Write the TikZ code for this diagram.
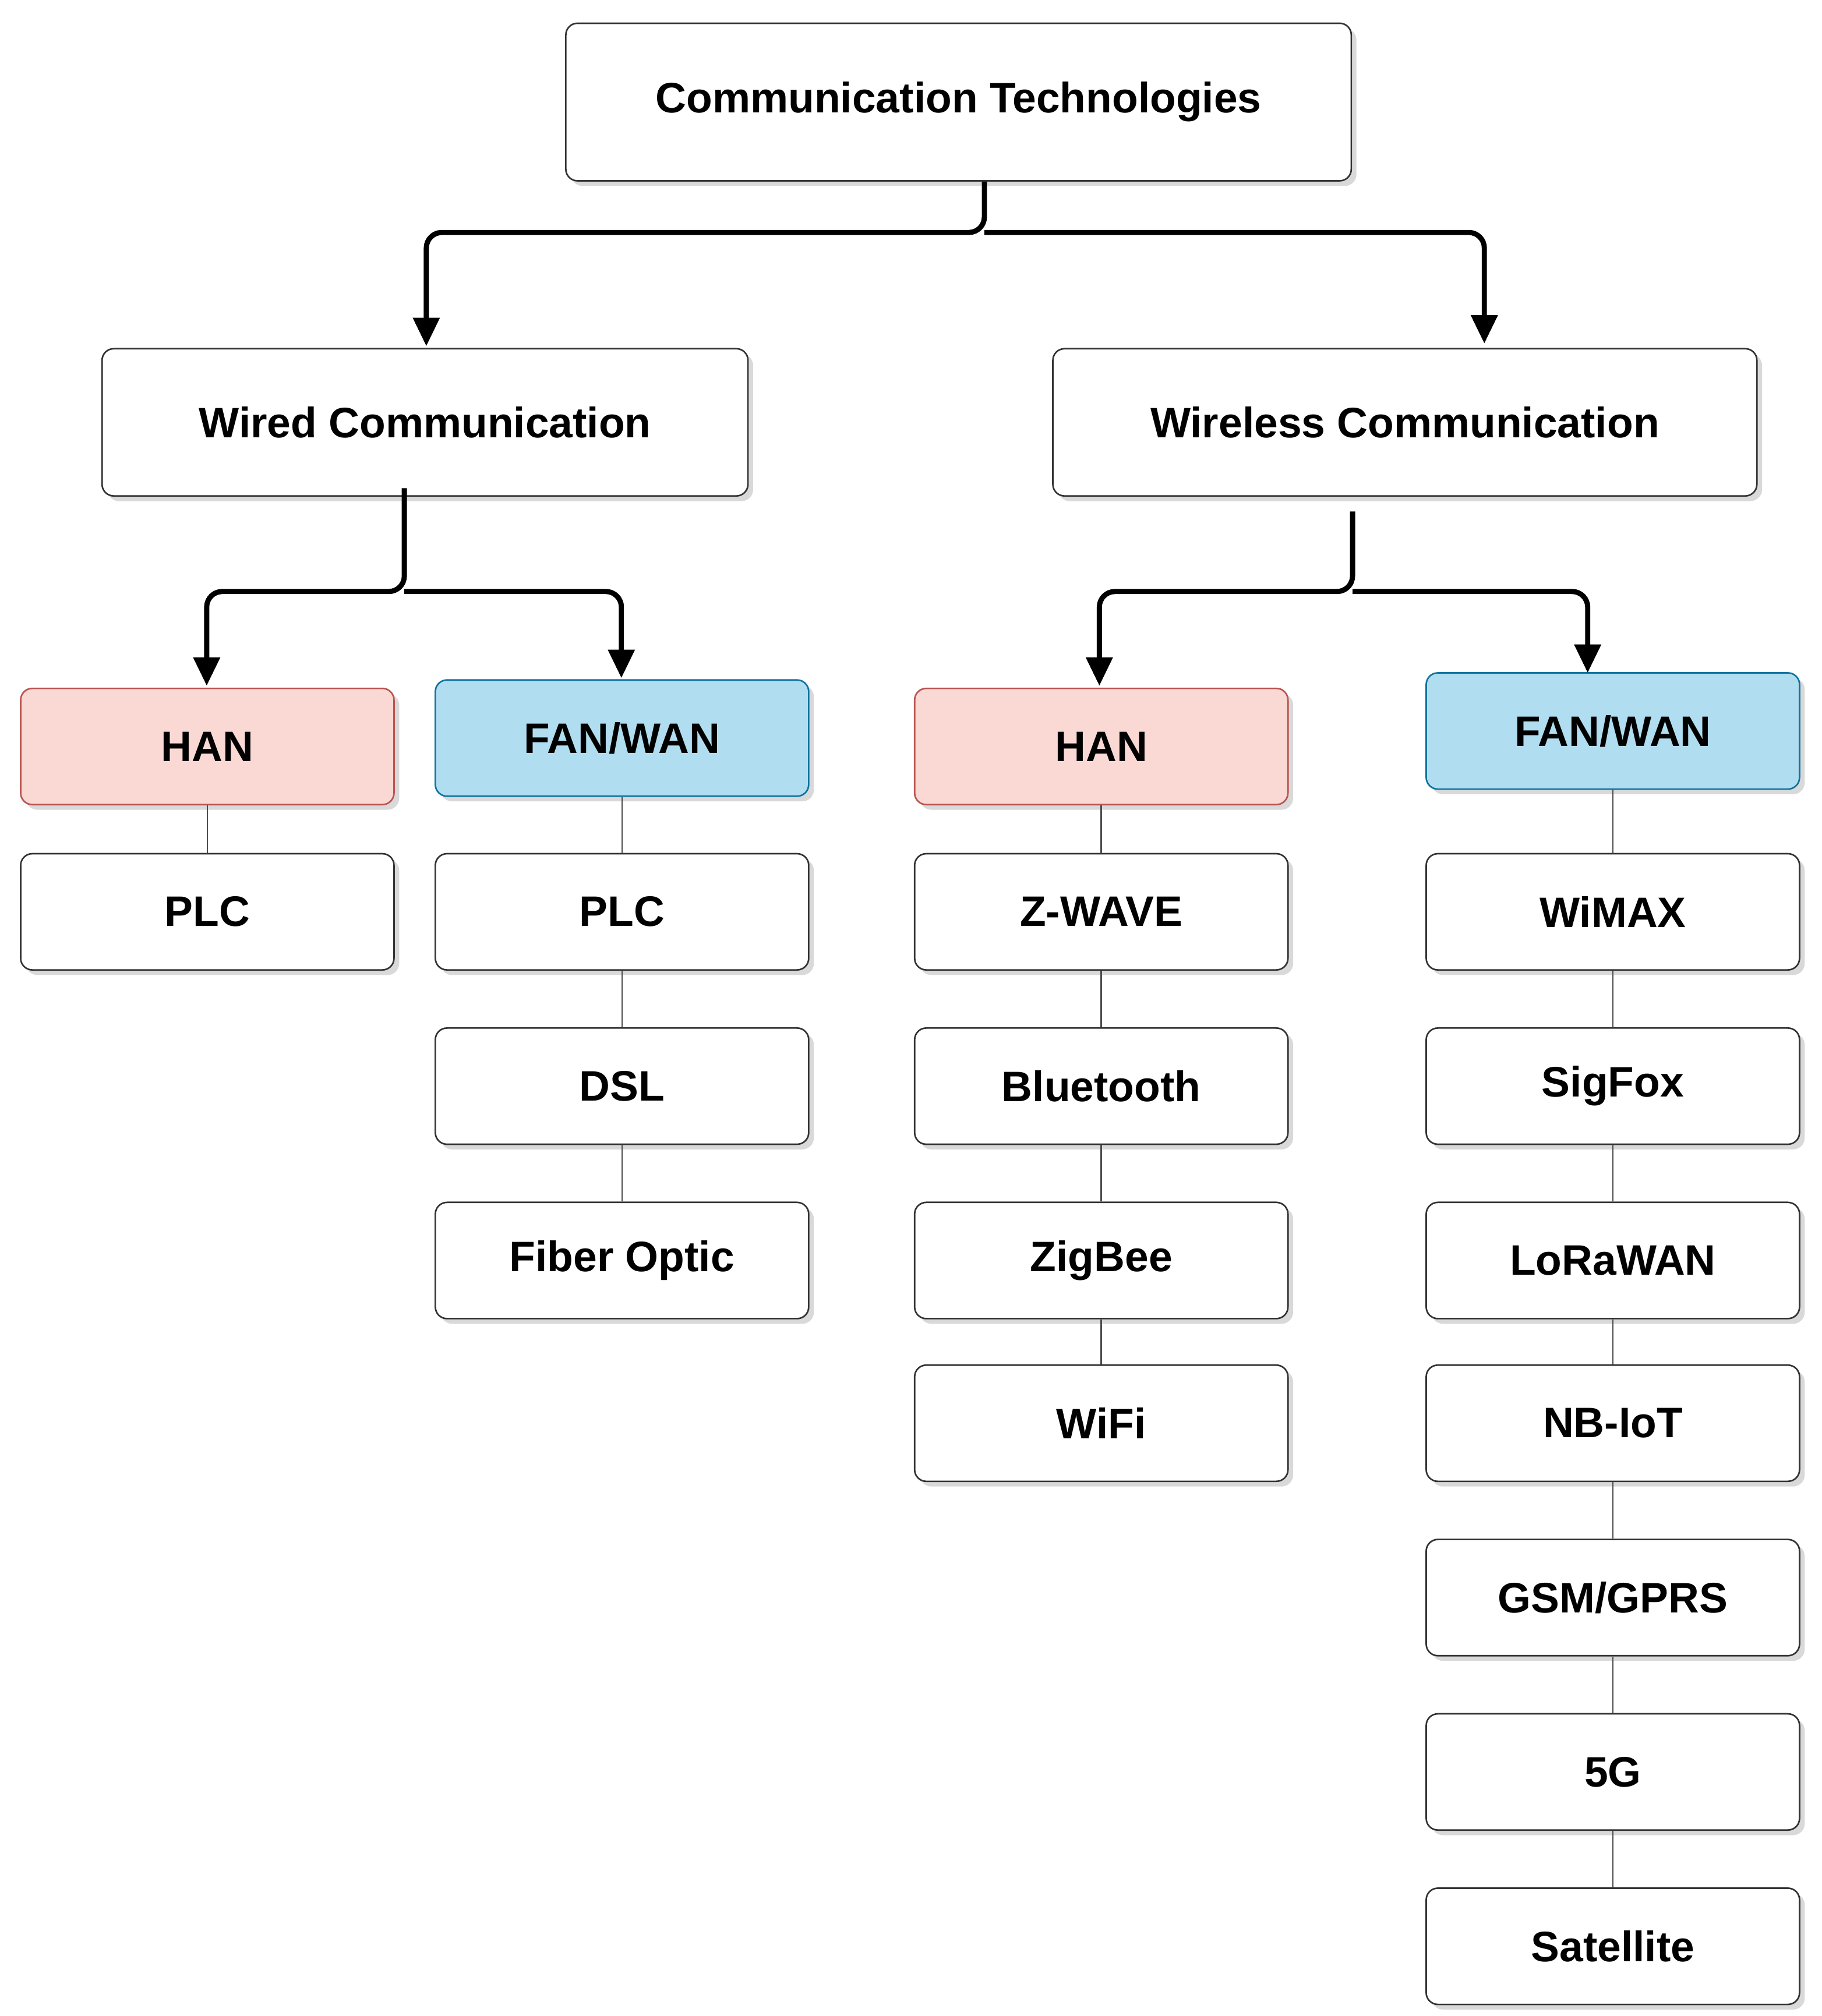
\documentclass[tikz,border=0pt]{standalone}
\usepackage{fontspec}
\setmainfont{Liberation Sans}
\usetikzlibrary{shadows,arrows.meta}
\definecolor{hanfill}{HTML}{FAD9D5}
\definecolor{hanline}{HTML}{B85450}
\definecolor{fanfill}{HTML}{B1DDF0}
\definecolor{fanline}{HTML}{10739E}
\begin{document}
\begin{tikzpicture}[x=1pt,y=-1pt,
  box/.style={draw=black!80,line width=1.2pt,rounded corners=9pt,fill=white,
    drop shadow={shadow xshift=4pt,shadow yshift=-4pt,fill=black!25,opacity=0.6},
    font=\fontsize{33}{38}\selectfont\bfseries,inner sep=0pt,
    minimum width=289pt,minimum height=90pt},
  han/.style={box,fill=hanfill,draw=hanline},
  fan/.style={box,fill=fanfill,draw=fanline},
  thin/.style={draw=black!70,line width=1.2pt},
  br/.style={line width=4pt,rounded corners=12pt,-{Triangle[length=22pt,width=20pt]}}]
\useasboundingbox (0,0) rectangle (1410,1561);
\node[box,minimum width=608pt,minimum height=122pt] (top) at (742,79) {Communication Technologies};
\node[box,minimum width=500pt,minimum height=114pt] (wired) at (329,327) {Wired Communication};
\node[box,minimum width=545pt,minimum height=114pt] (wless) at (1087.5,327) {Wireless Communication};
\node[han] (han1) at (160.5,578) {HAN};
\node[fan] (fan1) at (481.5,571.5) {FAN/WAN};
\node[han] (han2) at (852.5,578) {HAN};
\node[fan] (fan2) at (1248.5,566) {FAN/WAN};
\node[box] (plc1) at (160.5,706) {PLC};
\node[box] (plc2) at (481.5,706) {PLC};
\node[box] (dsl) at (481.5,841) {DSL};
\node[box] (fib) at (481.5,976) {Fiber Optic};
\node[box] (zw) at (852.5,706) {Z-WAVE};
\node[box] (bt) at (852.5,841) {Bluetooth};
\node[box] (zb) at (852.5,976) {ZigBee};
\node[box] (wf) at (852.5,1102) {WiFi};
\node[box] (wm) at (1248.5,706) {WiMAX};
\node[box] (sf) at (1248.5,841) {SigFox};
\node[box] (lr) at (1248.5,976) {LoRaWAN};
\node[box] (nb) at (1248.5,1102) {NB-IoT};
\node[box] (gsm) at (1248.5,1237) {GSM/GPRS};
\node[box] (fg) at (1248.5,1372) {5G};
\node[box] (sat) at (1248.5,1507) {Satellite};
% brackets
\coordinate (j1) at (762,180);
\draw[br] (top.south -| j1) -- (j1) -- (330,180) -- (330,268);
\draw[br] (j1) -- (1149,180) -- (1149,266);
\coordinate (j2) at (313,458);
\draw[br] (313,378) -- (j2) -- (160,458) -- (160,531);
\draw[br] (j2) -- (481,458) -- (481,525);
\coordinate (j3) at (1047,458);
\draw[br] (1047,396) -- (j3) -- (851,458) -- (851,531);
\draw[br] (j3) -- (1229,458) -- (1229,521);
% stacks
\draw[thin] (han1.south) -- (plc1.north);
\draw[thin] (fan1.south) -- (plc2.north) (plc2.south) -- (dsl.north) (dsl.south) -- (fib.north);
\draw[thin] (han2.south) -- (zw.north) (zw.south) -- (bt.north) (bt.south) -- (zb.north) (zb.south) -- (wf.north);
\draw[thin] (fan2.south) -- (wm.north) (wm.south) -- (sf.north) (sf.south) -- (lr.north) (lr.south) -- (nb.north) (nb.south) -- (gsm.north) (gsm.south) -- (fg.north) (fg.south) -- (sat.north);
\end{tikzpicture}
\end{document}
